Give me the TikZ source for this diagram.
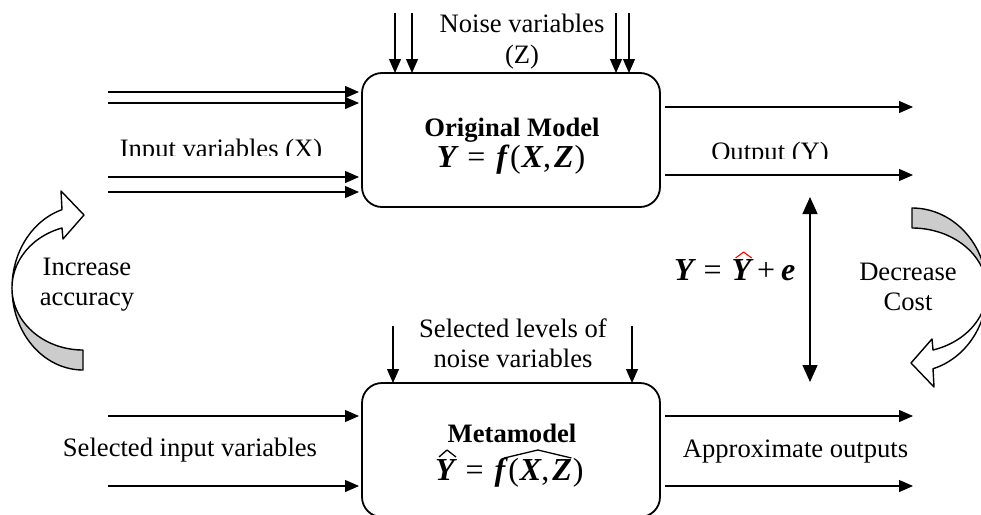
\documentclass[tikz,border=0pt]{standalone}
\usepackage{fontspec}
\setmainfont{Liberation Serif}
\usetikzlibrary{arrows.meta,calc}
\newcommand{\bi}[1]{{\bfseries\itshape #1}}
\newcommand{\txtsz}{\fontsize{26.6pt}{30.6pt}\selectfont}
\newcommand{\mathsz}{\fontsize{32pt}{36pt}\selectfont}
\definecolor{ribbongray}{RGB}{204,204,204}
\newcommand{\ribbonarrow}[1]{%
  \pgfmathsetmacro{\rth}{acos(21/#1)}%
  \pgfmathsetmacro{\rbw}{60/sin(\rth)}%
  \filldraw[ribbon, fill=ribbongray]
    plot[domain=-90:0, samples=40] ({912+#1*cos(\x)},{290+82*sin(\x)})
    -- plot[domain=0:-90, samples=40] ({912+#1*cos(\x)},{290+62*sin(\x)}) -- cycle;
  \filldraw[ribbon, fill=white]
    plot[domain=0:\rth, samples=40] ({912+#1*cos(\x)},{290+\rbw*sin(\x)})
    -- (932,339) -- (911,363) -- (934,387)
    -- plot[domain=\rth:0, samples=40] ({912+#1*cos(\x)},{290+82*sin(\x)}) -- cycle;
}
\begin{document}
\begin{tikzpicture}[x=1pt,y=-1pt,
  every node/.style={font=\txtsz, inner sep=0pt, outer sep=0pt},
  model/.style={draw, line width=1.8pt, rounded corners=20pt, minimum width=298pt, minimum height=134pt},
  flow/.style={line width=1.2pt, -{Triangle[length=14pt,width=12pt]}},
  bidir/.style={line width=1.2pt, {Triangle[length=17pt,width=15pt]}-{Triangle[length=17pt,width=15pt]}},
  lbl/.style={anchor=base},
  hat/.style={line width=1.3pt, line join=round},
  ribbon/.style={line width=1.4pt, line join=round}]

\useasboundingbox (0,0) rectangle (981,514);

% model boxes
\node[model] (om) at (511,140) {};
\node[model] (mm) at (511,450) {};

% box texts
\node[lbl, font=\txtsz\bfseries] (omt) at (512,136) {Original Model};
\node[lbl, font=\mathsz] (omf) at (511,167) {\bi{Y}\hspace{11pt}=\hspace{11pt}\bi{f}\hspace{3pt}(\hspace{1pt}\bi{X},\hspace{3pt}\bi{Z}\hspace{1pt})};
\node[lbl, font=\txtsz\bfseries] (mmt) at (512,442) {Metamodel};
\node[anchor=base west, font=\mathsz] (mfa) at (435,480) {\bi{Y}\hspace{11pt}=\hspace{11pt}\bi{f}\hspace{3pt}\mbox{}};
\node[anchor=base west, font=\mathsz] (mfb) at (mfa.base east) {(\hspace{1pt}\bi{X},\hspace{3pt}\bi{Z}\hspace{1pt})};
\draw[hat] ($(mfa.base west)+(4,-23)$) -- ($(mfa.base west)+(12,-30)$) -- ($(mfa.base west)+(21,-23)$);
\coordinate (hs) at ($(mfb.base west)+(-4,-22)$);
\coordinate (he) at ($(mfb.base east)+(-12,-22)$);
\draw[hat] (hs) -- ($(hs)!0.5!(he)+(0,-8)$) -- (he);

% noise variables (top)
\node[lbl] (nz1) at (522,32) {Noise variables};
\node[lbl] (nz2) at (522,63) {(Z)};
\coordinate (n1) at (395,13);
\coordinate (n2) at (412,13);
\coordinate (n3) at (616,13);
\coordinate (n4) at (629,13);
\foreach \c in {n1,n2,n3,n4} \draw[flow] (\c) -- (\c |- om.north);

% inputs (top)
\coordinate (i1) at (108,92);
\coordinate (i2) at (108,103);
\coordinate (i3) at (108,177);
\coordinate (i4) at (108,192);
\foreach \c in {i1,i2,i3,i4} \draw[flow, shorten >=3pt] (\c) -- (\c -| om.west);
\begin{scope}
  \clip (100,120) rectangle (350,155);
  \node[lbl] (inx) at (221,157) {Input variables (X)};
\end{scope}

% outputs (top)
\coordinate (o1) at (913,107);
\coordinate (o2) at (913,175);
\foreach \c in {o1,o2} \draw[flow, shorten <=5pt] (\c -| om.east) -- (\c);
\begin{scope}
  \clip (680,120) rectangle (900,158.5);
  \node[lbl] (outy) at (770,160) {Output (Y)};
\end{scope}

% error relation
\coordinate (da) at (810,197);
\coordinate (db) at (810,382);
\draw[bidir] (da) -- (db);
\node[anchor=base west, font=\mathsz] (eqa) at (674,280) {\bi{Y}\hspace{10pt}=\hspace{10pt}\mbox{}};
\node[anchor=base west, font=\mathsz] (eqy) at (eqa.base east) {\bi{Y}};
\node[anchor=base west, font=\mathsz] (eqc) at (eqy.base east) {\hspace{6pt}+\hspace{6pt}\bi{e}};
\draw[hat, red, line width=1.1pt] ($(eqy.base west)+(4,-22)$) -- ($(eqy.base west)+(12,-28)$) -- ($(eqy.base west)+(20,-22)$);

% curved arrows
\ribbonarrow{75}
\begin{scope}[rotate around={180:(497.5,289)}]
  \ribbonarrow{71}
\end{scope}
\node[lbl] (dec1) at (908,280) {Decrease};
\node[lbl] (dec2) at (908,310) {Cost};
\node[lbl] (inc1) at (87,275) {Increase};
\node[lbl] (inc2) at (87,305) {accuracy};

% noise variables (bottom)
\node[lbl] (sl1) at (513,337) {Selected levels of};
\node[lbl] (sl2) at (513,367) {noise variables};
\coordinate (s1) at (393,326);
\coordinate (s2) at (632,326);
\foreach \c in {s1,s2} \draw[flow] (\c) -- (\c |- mm.north);

% inputs / outputs (bottom)
\coordinate (j1) at (108,416);
\coordinate (j2) at (108,486);
\foreach \c in {j1,j2} \draw[flow, shorten >=3pt] (\c) -- (\c -| mm.west);
\node[lbl] (sin) at (190,456) {Selected input variables};
\coordinate (p1) at (913,416);
\coordinate (p2) at (913,486);
\foreach \c in {p1,p2} \draw[flow, shorten <=5pt] (\c -| mm.east) -- (\c);
\node[lbl] (apo) at (795.5,457) {Approximate outputs};
\end{tikzpicture}
\end{document}
